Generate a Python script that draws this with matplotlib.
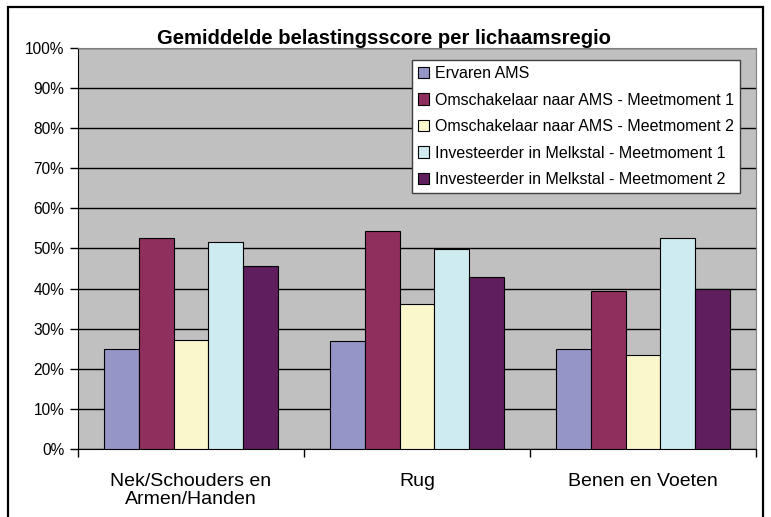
import matplotlib
matplotlib.use('Agg')
import matplotlib.pyplot as plt
from matplotlib.patches import Rectangle
from matplotlib.ticker import FuncFormatter
import numpy as np

plt.rcParams['font.family'] = ['Liberation Sans', 'DejaVu Sans']

categories = ['Nek/Schouders en\nArmen/Handen', 'Rug', 'Benen en Voeten']
series_names = [
    'Ervaren AMS',
    'Omschakelaar naar AMS - Meetmoment 1',
    'Omschakelaar naar AMS - Meetmoment 2',
    'Investeerder in Melkstal - Meetmoment 1',
    'Investeerder in Melkstal - Meetmoment 2',
]
ervaren = [24.9, 26.9, 24.9]
omsch_m1 = [52.5, 54.3, 39.4]
omsch_m2 = [27.3, 36.2, 23.4]
invest_m1 = [51.5, 49.9, 52.5]
invest_m2 = [45.7, 42.8, 39.9]
series = [ervaren, omsch_m1, omsch_m2, invest_m1, invest_m2]
colors = ['#9595C8', '#8F2F5E', '#FAF7CC', '#CDEBF0', '#5F1E5E']

fig = plt.figure(figsize=(7.71, 5.17), dpi=100, facecolor='white')
ax = fig.add_axes([0.1012, 0.1315, 0.8793, 0.7757])
ax.set_facecolor('#C0C0C0')

x = np.arange(len(categories))
w = 1 / 6.5
for i, (vals, col, name) in enumerate(zip(series, colors, series_names)):
    ax.bar(x + (i - 2) * w, vals, width=w, color=col, edgecolor='black',
           linewidth=0.8, label=name, zorder=3)

ax.set_xlim(-0.5, 2.5)
ax.set_ylim(0, 100)
ax.set_yticks(np.arange(0, 101, 10))
ax.yaxis.set_major_formatter(FuncFormatter(lambda v, _: f'{v:.0f}%'))
ax.grid(axis='y', color='black', linewidth=1, zorder=1)
ax.tick_params(axis='y', direction='out', length=6, width=1, labelsize=11.2, pad=4)

# boundary ticks + centred category labels
ax.set_xticks([-0.5, 0.5, 1.5, 2.5])
ax.set_xticklabels([])
ax.set_xticks(x, minor=True)
ax.set_xticklabels(categories, minor=True, fontsize=14, linespacing=1.12)
ax.tick_params(axis='x', which='major', direction='out', length=6, width=1)
ax.tick_params(axis='x', which='minor', length=0, pad=17)

ax.spines['left'].set_color('black')
ax.spines['bottom'].set_color('black')
ax.spines['top'].set_color('#808080')
ax.spines['right'].set_color('#808080')

ax.set_title('Gemiddelde belastingsscore per lichaamsregio', fontsize=14.6,
             fontweight='bold', pad=2, x=0.452)

leg = ax.legend(loc='upper left', bbox_to_anchor=(0.4926, 0.970), borderaxespad=0,
                fontsize=11.5, frameon=True, fancybox=False, edgecolor='#404040',
                facecolor='white', framealpha=1, handlelength=0.7, handleheight=0.7,
                handletextpad=0.35, labelspacing=0.72, borderpad=0.38)
leg.get_frame().set_linewidth(1)

fig.patches.append(Rectangle((0.011, -0.05), 0.9785, 1.037, transform=fig.transFigure,
                             fill=False, edgecolor='black', linewidth=1.6))

fig.savefig('out.png', dpi=100)
